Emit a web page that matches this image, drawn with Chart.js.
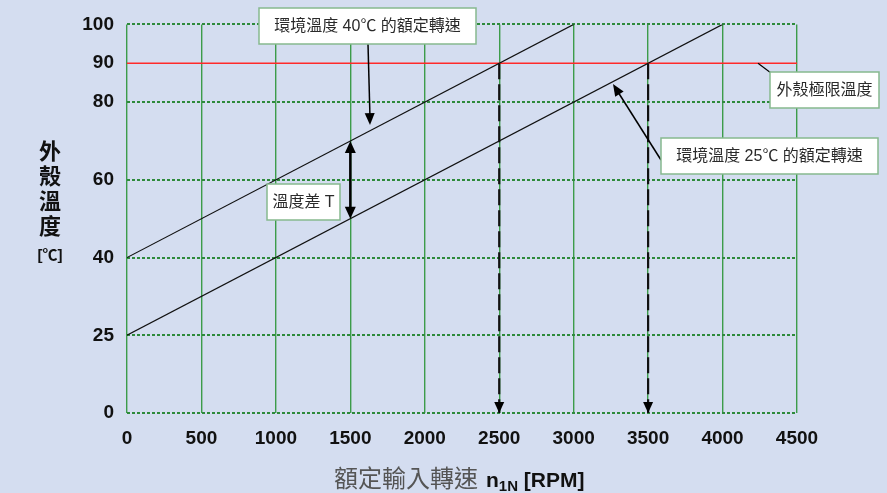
<!DOCTYPE html>
<html>
<head>
<meta charset="utf-8">
<script src="https://cdn.jsdelivr.net/npm/chart.js@4"></script>
<style>
  html, body { margin: 0; padding: 0; background: #d4ddf0; }
  #wrap { width: 887px; height: 493px; }
</style>
</head>
<body>
<div id="wrap"><canvas id="myChart" width="887" height="493"></canvas></div>
<script>
// temperature labels on the y axis (the axis is not linear: equal steps between knots)
const yTickLabels = [0, 25, 40, 60, 80, 90, 100];
const yKnots = [0, 25, 40, 60, 80, 100];

// rated speed lines: housing temperature vs. input speed
const line40 = [{ x: 0, y: 40 }, { x: 3000, y: 100 }];
const line25 = [{ x: 0, y: 25 }, { x: 4000, y: 100 }];
const limitTemp = 90;
const limitLine = [{ x: 0, y: limitTemp }, { x: 4500, y: limitTemp }];
const rated40 = [{ x: 2500, y: limitTemp }, { x: 2500, y: 0 }];
const rated25 = [{ x: 3500, y: limitTemp }, { x: 3500, y: 0 }];
const deltaT = [{ x: 1500, y: 70 }, { x: 1500, y: 50 }];

const FONT = "'Liberation Sans', 'Noto Sans CJK TC', sans-serif";
const GREEN = '#3c9c4a';
const GREEN_DOT = '#2e8a3c';
const BOX_BORDER = '#86b98e';

// temperature -> position on the stepped axis
const toAxis = (t) => {
  for (let i = 0; i < yKnots.length - 1; i++) {
    if (t <= yKnots[i + 1]) {
      return i + (t - yKnots[i]) / (yKnots[i + 1] - yKnots[i]);
    }
  }
  return yKnots.length - 1;
};
const mapPts = (pts) => pts.map((p) => ({ x: p.x, y: toAxis(p.y) }));

const arrowHead = (ctx, x1, y1, x2, y2, len, half) => {
  const a = Math.atan2(y2 - y1, x2 - x1);
  ctx.beginPath();
  ctx.moveTo(x2, y2);
  ctx.lineTo(x2 - len * Math.cos(a) + half * Math.sin(a), y2 - len * Math.sin(a) - half * Math.cos(a));
  ctx.lineTo(x2 - len * Math.cos(a) - half * Math.sin(a), y2 - len * Math.sin(a) + half * Math.cos(a));
  ctx.closePath();
  ctx.fill();
};

const labelBox = (ctx, x, y, w, h, text) => {
  ctx.fillStyle = '#ffffff';
  ctx.fillRect(x, y, w, h);
  ctx.strokeStyle = BOX_BORDER;
  ctx.lineWidth = 1.5;
  ctx.strokeRect(x, y, w, h);
  ctx.fillStyle = '#2a2a2a';
  ctx.font = '16px ' + FONT;
  ctx.textAlign = 'center';
  ctx.textBaseline = 'middle';
  ctx.fillText(text, x + w / 2, y + h / 2 + 1);
};

const bgPlugin = {
  id: 'bg',
  beforeDraw: (chart) => {
    const ctx = chart.ctx;
    ctx.save();
    ctx.fillStyle = '#d4ddf0';
    ctx.fillRect(0, 0, chart.width, chart.height);
    ctx.restore();
  }
};

const notesPlugin = {
  id: 'notes',
  afterDraw: (chart) => {
    const ctx = chart.ctx;
    const xs = chart.scales.x, ys = chart.scales.y;
    const px = (v) => xs.getPixelForValue(v);
    const py = (t) => ys.getPixelForValue(toAxis(t));
    ctx.save();
    ctx.fillStyle = '#000';
    ctx.strokeStyle = '#000';

    // arrowheads on the dashed rated-speed lines
    [rated40, rated25].forEach((seg) => {
      arrowHead(ctx, px(seg[0].x), py(seg[0].y), px(seg[1].x), py(seg[1].y), 11, 5);
    });

    // temperature difference double arrow
    const dx = px(deltaT[0].x), dy1 = py(deltaT[0].y), dy2 = py(deltaT[1].y);
    ctx.lineWidth = 2.5;
    ctx.beginPath();
    ctx.moveTo(dx, dy1 + 8);
    ctx.lineTo(dx, dy2 - 8);
    ctx.stroke();
    arrowHead(ctx, dx, dy2, dx, dy1, 12, 5.5);
    arrowHead(ctx, dx, dy1, dx, dy2, 12, 5.5);

    // callout arrows
    ctx.lineWidth = 1.5;
    ctx.beginPath();
    ctx.moveTo(368, 44);
    ctx.lineTo(370, 118);
    ctx.stroke();
    arrowHead(ctx, 368, 44, 370, 125, 12, 5);

    ctx.beginPath();
    ctx.moveTo(661, 160);
    ctx.lineTo(618, 92);
    ctx.stroke();
    arrowHead(ctx, 661, 160, 613, 84, 12, 5);

    ctx.lineWidth = 1.2;
    ctx.beginPath();
    ctx.moveTo(758, py(limitTemp));
    ctx.lineTo(771, 73);
    ctx.stroke();

    labelBox(ctx, 259, 8, 217, 36, '環境溫度 40℃ 的額定轉速');
    labelBox(ctx, 770, 72, 109, 36, '外殼極限溫度');
    labelBox(ctx, 661, 138, 217, 36, '環境溫度 25℃ 的額定轉速');
    labelBox(ctx, 267, 184, 73, 36, '溫度差 T');

    // y axis title, stacked
    ctx.fillStyle = '#111';
    ctx.textAlign = 'center';
    ctx.textBaseline = 'middle';
    ctx.font = 'bold 22px ' + FONT;
    ['外', '殼', '溫', '度'].forEach((c, i) => ctx.fillText(c, 50, 153 + i * 25));
    ctx.font = 'bold 15px ' + FONT;
    ctx.fillText('[℃]', 50, 256);

    // x axis title
    ctx.textAlign = 'left';
    ctx.textBaseline = 'alphabetic';
    const base = 487;
    let x = 334;
    ctx.fillStyle = '#555';
    ctx.font = '24px ' + FONT;
    const t1 = '額定輸入轉速';
    ctx.fillText(t1, x, base);
    x += ctx.measureText(t1).width + 8;
    ctx.fillStyle = '#111';
    ctx.font = 'bold 21px ' + FONT;
    ctx.fillText('n', x, base);
    x += ctx.measureText('n').width;
    ctx.font = 'bold 15px ' + FONT;
    ctx.fillText('1N', x, base + 4);
    x += ctx.measureText('1N').width;
    ctx.font = 'bold 21px ' + FONT;
    ctx.fillText(' [RPM]', x, base);
    ctx.restore();
  }
};

const configureData = () => {
  const plain = { showLine: true, pointRadius: 0, fill: false };
  return {
    datasets: [
      { ...plain, label: '40', data: mapPts(line40), borderColor: '#111', borderWidth: 1.2 },
      { ...plain, label: '25', data: mapPts(line25), borderColor: '#111', borderWidth: 1.2 },
      { ...plain, label: 'limit', data: mapPts(limitLine), borderColor: '#ff2a2a', borderWidth: 1.5 },
      { ...plain, label: 'n40', data: mapPts(rated40), borderColor: '#111', borderWidth: 2.2, borderDash: [16, 5] },
      { ...plain, label: 'n25', data: mapPts(rated25), borderColor: '#111', borderWidth: 2.2, borderDash: [16, 5] }
    ]
  };
};

const configureChart = (data) => {
  return {
    type: 'scatter',
    data: data,
    options: {
      responsive: false,
      animation: false,
      events: [],
      layout: { padding: { left: 0, right: 90, top: 20, bottom: 0 } },
      plugins: { legend: { display: false }, tooltip: { enabled: false } },
      scales: {
        x: {
          type: 'linear',
          min: 0,
          max: 4500,
          afterFit: (s) => { s.height = 80; },
          ticks: {
            stepSize: 500,
            color: '#111',
            padding: 14,
            font: { family: FONT, size: 19, weight: 'bold' },
            maxRotation: 0,
            callback: (v) => String(v)
          },
          grid: { color: GREEN, lineWidth: 1.4, drawTicks: false },
          border: { display: false }
        },
        y: {
          type: 'linear',
          min: 0,
          max: yKnots.length - 1,
          afterFit: (s) => { s.width = 127; },
          afterBuildTicks: (s) => { s.ticks = yTickLabels.map((v) => ({ value: toAxis(v) })); },
          ticks: {
            color: '#111',
            padding: 13,
            font: { family: FONT, size: 19, weight: 'bold' },
            callback: (v, i) => yTickLabels[i]
          },
          grid: {
            color: (c) => (c.tick && c.tick.value === toAxis(limitTemp) ? 'rgba(0,0,0,0)' : GREEN_DOT),
            lineWidth: 2,
            drawTicks: false
          },
          border: { display: false, dash: [3, 2] }
        }
      }
    },
    plugins: [bgPlugin, notesPlugin]
  };
};

const renderChart = () => {
  const ctx = document.getElementById('myChart');
  const chart = new Chart(ctx, configureChart(configureData()));
};

window.onload = () => {
  renderChart();
};
</script>
</body>
</html>
